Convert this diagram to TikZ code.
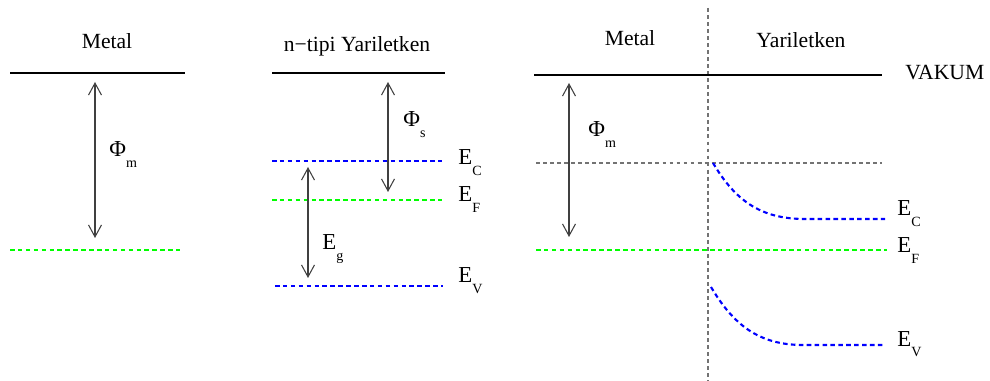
\documentclass[tikz,border=0pt]{standalone}
\usepackage{fontspec}
\setmainfont{Liberation Serif}
\usetikzlibrary{arrows.meta,positioning}

\newcommand{\lsub}[2]{#1\raisebox{-6pt}{\fontsize{8}{9}\selectfont #2}}

\begin{document}
\begin{tikzpicture}[
  x=0.02cm,y=-0.02cm,
  vacuum/.style={line width=1.1pt},
  level/.style={line width=1.2pt, dash pattern=on 2.6pt off 1.9pt},
  cband/.style={level, blue},
  fermi/.style={level, green},
  grayline/.style={line width=1pt, dash pattern=on 2.2pt off 1.8pt, black!55},
  dbl/.style={{Straight Barb[length=2.4mm,width=2.6mm]}-{Straight Barb[length=2.4mm,width=2.6mm]}, black!75, line width=0.6pt},
  txt/.style={inner sep=0pt, anchor=base, font=\fontsize{12.3}{14}\selectfont},
  sym/.style={inner sep=0pt, anchor=base west, font=\fontsize{13}{15}\selectfont}
]
\useasboundingbox (0,0) rectangle (990,381);

% metal alone
\node[txt] (metalA) at (107,49) {Metal};
\coordinate (vacA1) at (10,73); \coordinate (vacA2) at (185,73);
\coordinate (efA1) at (10,250); \coordinate (efA2) at (180,250);
\coordinate (phiAt) at (95,82); \coordinate (phiAb) at (95,238);
\draw[vacuum] (vacA1) -- (vacA2);
\draw[fermi] (efA1) -- (efA2);
\draw[dbl] (phiAt) -- (phiAb);
\node[sym] (phimA) at (109,157) {\lsub{Φ}{m}};

% n-type semiconductor alone
\node[txt] (semiB) at (357,52) {n−tipi Yariletken};
\coordinate (vacB1) at (272,73); \coordinate (vacB2) at (445,73);
\coordinate (ecB1) at (272,161); \coordinate (ecB2) at (442,161);
\coordinate (efB1) at (272,200); \coordinate (efB2) at (442,200);
\coordinate (evB1) at (275,286); \coordinate (evB2) at (443,286);
\draw[vacuum] (vacB1) -- (vacB2);
\draw[cband] (ecB1) -- (ecB2);
\draw[fermi] (efB1) -- (efB2);
\draw[cband] (evB1) -- (evB2);
\coordinate (phiBt) at (388,82); \coordinate (phiBb) at (388,192);
\coordinate (egBt) at (308,167); \coordinate (egBb) at (308,278);
\draw[dbl] (phiBt) -- (phiBb);
\draw[dbl] (egBt) -- (egBb);
\node[sym] (phisB) at (403,127) {\lsub{Φ}{s}};
\node[sym] (egB) at (322,250) {\lsub{E}{g}};
\node[sym] (ecBl) at (458,165) {\lsub{E}{C}};
\node[sym] (efBl) at (458,202) {\lsub{E}{F}};
\node[sym] (evBl) at (458,283) {\lsub{E}{V}};

% contact
\coordinate (ifTop) at (708,8); \coordinate (ifBot) at (708,381);
\draw[grayline] (ifTop) -- (ifBot);
\node[txt] (metalC) at (630,46) {Metal};
\node[txt] (semiC) at (801,48) {Yariletken};
\node[txt, anchor=base west] (vakum) at (905,80) {VAKUM};
\coordinate (vacC1) at (534,75); \coordinate (vacC2) at (882,75);
\coordinate (gapC1) at (536,163); \coordinate (gapC2) at (882,163);
\coordinate (efC1) at (536,250); \coordinate (efC2) at (887,250);
\draw[vacuum] (vacC1) -- (vacC2);
\draw[grayline] (gapC1) -- (gapC2);
\draw[fermi] (efC1) -- (efC2);
\coordinate (ecC0) at (713,163); \coordinate (ecC1) at (805,219); \coordinate (ecC2) at (885,219);
\coordinate (evC0) at (711,287); \coordinate (evC1) at (803,345); \coordinate (evC2) at (885,345);
\draw[cband] (ecC0) .. controls (735,200) and (760,219) .. (ecC1) -- (ecC2);
\draw[cband] (evC0) .. controls (733,324) and (758,345) .. (evC1) -- (evC2);
\coordinate (phiCt) at (569,83); \coordinate (phiCb) at (569,237);
\draw[dbl] (phiCt) -- (phiCb);
\node[sym] (phimC) at (588,137) {\lsub{Φ}{m}};
\node[sym] (ecCl) at (897,216) {\lsub{E}{C}};
\node[sym] (efCl) at (897,253) {\lsub{E}{F}};
\node[sym] (evCl) at (897,346) {\lsub{E}{V}};
\end{tikzpicture}
\end{document}
